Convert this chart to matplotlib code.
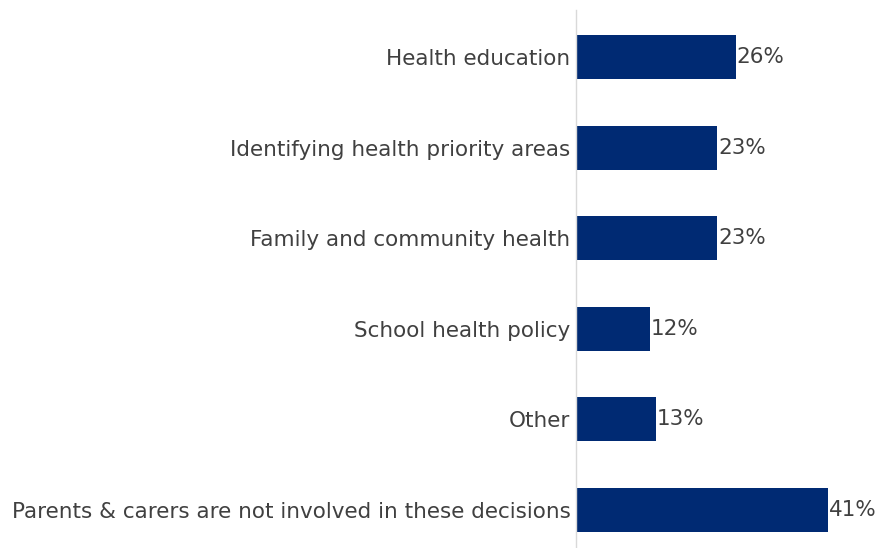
import matplotlib.pyplot as plt

categories = ["Health education", "Identifying health priority areas",
              "Family and community health", "School health policy", "Other",
              "Parents & carers are not involved in these decisions"]
values = [26, 23, 23, 12, 13, 41]

plt.rcParams['font.family'] = ['DejaVu Sans']

fig = plt.figure(figsize=(8.81, 5.48), dpi=100)
ax = fig.add_axes([576 / 881, 0, 305 / 881, 538 / 548])

pos = list(range(len(categories)))
ax.barh(pos, values, height=0.486, color='#002A73')
ax.set_ylim(5.42, -0.52)
ax.set_xlim(0, 49.6)

for p, v in zip(pos, values):
    ax.text(v + 0.1, p, f"{v}%", va='center', ha='left', fontsize=15.5, color='#404040')

ax.set_yticks(pos)
ax.set_yticklabels(categories, fontsize=15.5, color='#404040')
ax.tick_params(axis='y', length=0, pad=4)
ax.set_xticks([])
for s in ['top', 'right', 'bottom']:
    ax.spines[s].set_visible(False)
ax.spines['left'].set_color('#D9D9D9')
ax.spines['left'].set_linewidth(1)

fig.savefig('out.png', dpi=100)
